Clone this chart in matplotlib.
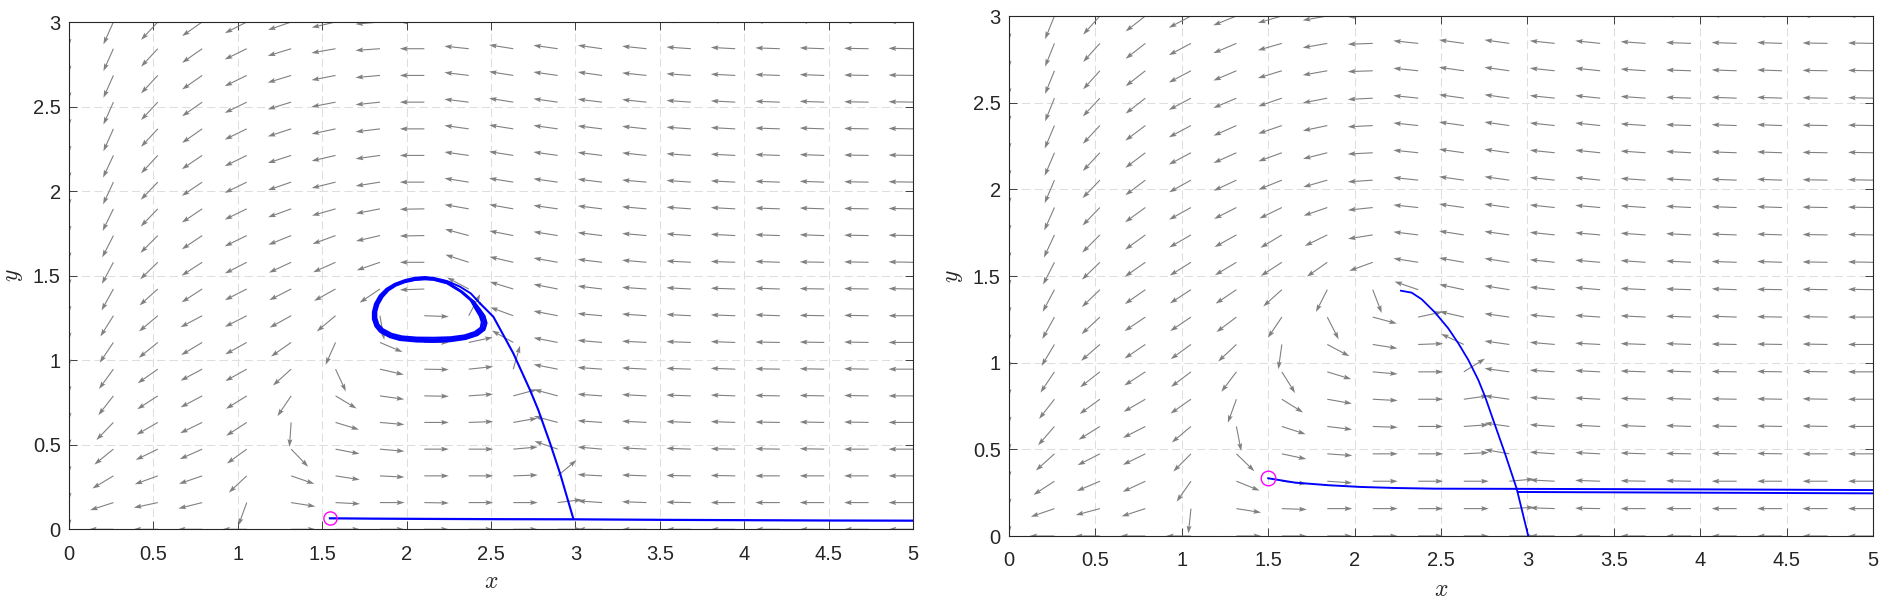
import numpy as np
import matplotlib
matplotlib.use("Agg")
import matplotlib.pyplot as plt

plt.rcParams['font.family'] = ['Liberation Sans', 'DejaVu Sans']
plt.rcParams['mathtext.fontset'] = 'cm'

nan = float('nan')

# ---------------- data ----------------
x_grid = [0.0, 0.263, 0.526, 0.789, 1.053, 1.316, 1.579, 1.842, 2.105, 2.368,
          2.632, 2.895, 3.158, 3.421, 3.684, 3.947, 4.211, 4.474, 4.737, 5.0]
y_grid = [0.0, 0.158, 0.316, 0.474, 0.632, 0.789, 0.947, 1.105, 1.263, 1.421,
          1.579, 1.737, 1.895, 2.053, 2.211, 2.368, 2.526, 2.684, 2.842, 3.0]

# arrow directions (degrees), rows = y_grid, columns = x_grid
left_angles = [
    [nan,180,180,180,180,0,0,0,0,0,0,0,180,180,180,180,180,180,180,180],
    [270,198,192,194,250,351,357,0,359,0,0,7,176,178,179,180,180,180,180,180],
    [270,211,200,199,223,341,351,357,0,0,2,40,177,178,179,179,180,180,180,180],
    [270,219,206,204,216,314,349,355,0,0,5,161,175,177,178,179,179,179,180,180],
    [270,226,210,206,213,266,343,355,0,2,10,165,176,177,178,178,179,179,179,180],
    [270,232,213,208,212,236,329,352,359,4,15,165,176,177,178,178,179,179,179,180],
    [270,234,215,208,209,222,295,347,359,6,74,169,176,177,178,178,179,179,179,180],
    [270,236,219,211,209,215,246,337,0,12,151,169,175,177,178,178,179,179,179,180],
    [270,238,220,208,207,209,220,280,358,62,160,169,175,176,177,178,178,179,179,180],
    [270,241,222,213,207,207,209,214,182,152,163,169,173,176,177,178,178,179,179,179],
    [270,242,224,213,207,205,204,199,180,162,167,170,173,175,177,178,178,179,179,179],
    [270,243,225,214,206,202,200,193,181,165,169,171,173,175,176,177,178,178,179,179],
    [270,244,226,214,206,200,196,191,181,170,170,172,173,175,176,177,178,178,179,179],
    [270,245,226,214,206,199,194,189,180,171,171,172,173,175,176,177,178,178,179,179],
    [270,245,227,214,206,198,193,188,180,172,171,172,173,174,176,177,178,178,179,179],
    [270,246,227,215,206,198,192,187,180,172,171,172,173,174,176,177,178,178,179,179],
    [270,246,227,215,206,197,191,186,180,173,171,172,173,174,176,177,178,178,179,179],
    [270,246,227,215,206,197,191,185,180,173,171,172,172,174,176,177,178,178,179,179],
    [270,246,227,215,206,197,190,184,180,174,171,172,172,174,176,177,178,178,179,179],
    [270,246,227,215,207,199,193,185,180,174,171,172,172,174,176,177,178,178,179,179],
]

right_angles = [
    [nan,180,180,180,180,0,0,0,0,0,0,0,180,180,180,180,180,180,180,180],
    [270,199,195,198,264,351,358,0,0,0,0,3,178,179,180,180,180,180,180,180],
    [270,213,203,205,235,338,354,356,0,0,0,5,177,178,179,179,180,180,180,180],
    [270,222,207,206,225,316,348,356,0,0,3,170,176,177,178,179,179,179,180,180],
    [270,229,212,207,220,281,342,353,358,0,4,172,176,177,178,178,179,179,179,180],
    [270,232,216,210,215,250,328,350,357,0,8,172,176,177,178,178,179,179,179,180],
    [270,236,218,213,217,233,302,343,355,0,32,172,176,177,178,178,179,179,179,180],
    [270,239,221,214,216,223,262,332,351,2,155,172,175,177,178,178,179,179,179,180],
    [270,241,223,214,214,217,236,297,345,12,167,172,175,176,177,178,178,179,179,180],
    [270,242,224,215,213,214,222,243,291,161,168,171,174,175,177,178,178,179,179,179],
    [270,243,224,215,212,211,213,215,200,171,170,171,174,175,176,177,178,178,179,179],
    [270,245,225,216,210,209,211,206,189,173,171,172,174,175,176,177,178,178,179,179],
    [270,246,226,216,209,207,206,199,186,174,172,172,174,175,176,177,178,178,179,179],
    [270,247,226,217,209,205,202,196,184,174,172,172,174,174,176,177,178,178,179,179],
    [270,247,227,217,208,204,200,194,183,174,172,172,174,174,176,177,178,178,179,179],
    [270,247,227,217,208,204,199,192,183,174,172,172,174,174,176,178,178,178,179,179],
    [270,248,227,218,208,203,199,191,183,174,172,172,174,174,176,178,178,178,179,179],
    [270,248,228,218,208,203,197,190,182,174,172,172,174,174,176,178,178,178,179,179],
    [270,248,228,218,208,203,196,190,182,174,172,172,174,174,176,178,178,178,179,179],
    [270,248,228,218,208,202,196,190,182,174,172,172,174,174,176,178,178,178,179,179],
]

# left panel trajectories
left_start = (1.546, 0.065)
left_flat_x = [1.546, 1.8, 2.0, 2.5, 2.988, 3.5, 4.0, 4.5, 5.0]
left_flat_y = [0.065, 0.063, 0.062, 0.060, 0.059, 0.056, 0.054, 0.052, 0.051]

left_rise_x = [2.988, 2.909, 2.850, 2.780, 2.731, 2.632, 2.514, 2.435]
left_rise_y = [0.062, 0.331, 0.509, 0.706, 0.824, 1.041, 1.257, 1.336]

loop1_x = [2.435, 2.38, 2.316, 2.24, 2.16, 2.109, 2.05, 1.99, 1.93, 1.88, 1.84, 1.812, 1.80, 1.80,
           1.815, 1.842, 1.90, 1.96, 2.06, 2.16, 2.26, 2.35, 2.42, 2.462, 2.474, 2.462, 2.435, 2.40]
loop1_y = [1.336, 1.395, 1.435, 1.468, 1.487, 1.492, 1.488, 1.474, 1.452, 1.422, 1.382, 1.333, 1.285, 1.243,
           1.200, 1.168, 1.136, 1.119, 1.110, 1.108, 1.112, 1.125, 1.148, 1.180, 1.220, 1.262, 1.300, 1.345]
loop2_x = [2.40, 2.33, 2.24, 2.16, 2.109, 2.05, 1.99, 1.93, 1.885, 1.846, 1.820, 1.807, 1.807, 1.820,
           1.848, 1.903, 1.963, 2.06, 2.16, 2.26, 2.35, 2.415, 2.455, 2.465, 2.452, 2.425, 2.395]
loop2_y = [1.345, 1.405, 1.462, 1.482, 1.486, 1.482, 1.469, 1.448, 1.419, 1.379, 1.331, 1.285, 1.245, 1.204,
           1.172, 1.142, 1.126, 1.118, 1.116, 1.120, 1.132, 1.154, 1.183, 1.221, 1.262, 1.300, 1.345]
loop3_x = [2.395, 2.325, 2.24, 2.16, 2.109, 2.05, 1.99, 1.933, 1.888, 1.852, 1.827, 1.814, 1.814, 1.826,
           1.853, 1.907, 1.968, 2.06, 2.16, 2.26, 2.347, 2.41, 2.447, 2.455, 2.442, 2.416, 2.39]
loop3_y = [1.345, 1.405, 1.457, 1.478, 1.481, 1.477, 1.464, 1.444, 1.416, 1.376, 1.330, 1.286, 1.247, 1.208,
           1.178, 1.149, 1.133, 1.126, 1.124, 1.128, 1.139, 1.160, 1.188, 1.223, 1.262, 1.300, 1.345]
loop4_x = [2.39, 2.32, 2.24, 2.16, 2.109, 2.05, 1.99, 1.937, 1.893, 1.858, 1.833, 1.821, 1.821, 1.833,
           1.859, 1.912, 1.973, 2.06, 2.16, 2.26, 2.343, 2.404, 2.439, 2.445, 2.433, 2.41, 2.385]
loop4_y = [1.345, 1.405, 1.454, 1.475, 1.478, 1.474, 1.461, 1.441, 1.413, 1.374, 1.330, 1.288, 1.250, 1.212,
           1.184, 1.156, 1.141, 1.134, 1.133, 1.136, 1.147, 1.167, 1.193, 1.226, 1.262, 1.300, 1.345]

# right panel trajectories
right_start = (1.5, 0.335)
right_flat_x = [1.5, 1.655, 1.848, 2.035, 2.234, 2.465, 2.938]
right_flat_y = [0.333, 0.308, 0.293, 0.283, 0.277, 0.273, 0.272]
right_upper_x = [2.938, 4.0, 5.0]
right_upper_y = [0.272, 0.269, 0.265]
right_lower_x = [2.945, 4.0, 5.0]
right_lower_y = [0.254, 0.250, 0.246]
right_rise_x = [3.005, 2.938, 2.870, 2.809, 2.755, 2.716, 2.658, 2.600, 2.542, 2.465, 2.388, 2.330, 2.268]
right_rise_y = [0.0, 0.273, 0.477, 0.650, 0.804, 0.900, 1.016, 1.112, 1.198, 1.290, 1.366, 1.404, 1.415]

x_ticks = [0, 0.5, 1, 1.5, 2, 2.5, 3, 3.5, 4, 4.5, 5]
x_ticklabels = ['0', '0.5', '1', '1.5', '2', '2.5', '3', '3.5', '4', '4.5', '5']
y_ticks = [0, 0.5, 1, 1.5, 2, 2.5, 3]
y_ticklabels = ['0', '0.5', '1', '1.5', '2', '2.5', '3']

# ---------------- figure ----------------
W, H = 1889, 601
fig = plt.figure(figsize=(W / 100, H / 100), dpi=100)
AX_COL = '#262626'


def add_axes_px(left, top, right, bottom):
    return fig.add_axes([left / W, 1 - bottom / H, (right - left) / W, (bottom - top) / H])


def style(ax, ylab_x, xlab_y):
    ax.set_xlim(0, 5)
    ax.set_ylim(0, 3)
    ax.set_xticks(x_ticks)
    ax.set_xticklabels(x_ticklabels)
    ax.set_yticks(y_ticks)
    ax.set_yticklabels(y_ticklabels)
    ax.tick_params(direction='in', length=5.5, width=0.6, color=AX_COL,
                   labelcolor=AX_COL, labelsize=14.5, top=True, right=True)
    ax.tick_params(axis='x', pad=11)
    ax.tick_params(axis='y', pad=6)
    for s in ax.spines.values():
        s.set_color(AX_COL)
        s.set_linewidth(0.8)
    ax.grid(True, color='#dedede', linestyle=(0, (8, 4)), linewidth=0.75)
    ax.set_axisbelow(True)
    ax.set_xlabel('$x$', fontsize=17, color=AX_COL)
    ax.set_ylabel('$y$', fontsize=17, color=AX_COL)
    ax.xaxis.label.set_va('center')
    ax.yaxis.label.set_va('center')
    ax.xaxis.set_label_coords(0.5, xlab_y)
    ax.yaxis.set_label_coords(ylab_x, 0.5)


def field(ax, angles, length):
    X, Y = np.meshgrid(x_grid, y_grid)
    a = np.radians(np.array(angles, dtype=float))
    U = np.cos(a)
    V = np.sin(a)
    ax.quiver(X, Y, U, V, angles='uv', scale_units='dots', scale=1.0 / length,
              units='dots', width=1.1, headwidth=4.5, headlength=7, headaxislength=6,
              color=(0.5, 0.5, 0.5), zorder=2)


# left panel
ax1 = add_axes_px(69, 22, 913, 529.3)
style(ax1, -0.065, -0.104)
field(ax1, left_angles, 24.5)
ax1.plot(left_flat_x, left_flat_y, color='blue', lw=1.6, zorder=3)
ax1.plot(left_rise_x, left_rise_y, color='blue', lw=1.5, zorder=3)
for lx, ly in [(loop1_x, loop1_y), (loop2_x, loop2_y), (loop3_x, loop3_y), (loop4_x, loop4_y)]:
    ax1.plot(lx, ly, color='blue', lw=1.4, zorder=3, solid_joinstyle='round')
ax1.plot([left_start[0]], [left_start[1]], 'o', mfc='none', mec='magenta', ms=9.5, mew=1.0, zorder=4)

# right panel
ax2 = add_axes_px(1009, 16, 1873, 536)
style(ax2, -0.064, -0.104)
field(ax2, right_angles, 25)
ax2.plot(right_flat_x, right_flat_y, color='blue', lw=1.4, zorder=3)
ax2.plot(right_upper_x, right_upper_y, color='blue', lw=1.4, zorder=3)
ax2.plot(right_lower_x, right_lower_y, color='blue', lw=1.4, zorder=3)
ax2.plot(right_rise_x, right_rise_y, color='blue', lw=1.3, zorder=3)
ax2.plot([right_start[0]], [right_start[1]], 'o', mfc='none', mec='magenta', ms=10.5, mew=1.0, zorder=4)

fig.savefig('out.png', dpi=100)
